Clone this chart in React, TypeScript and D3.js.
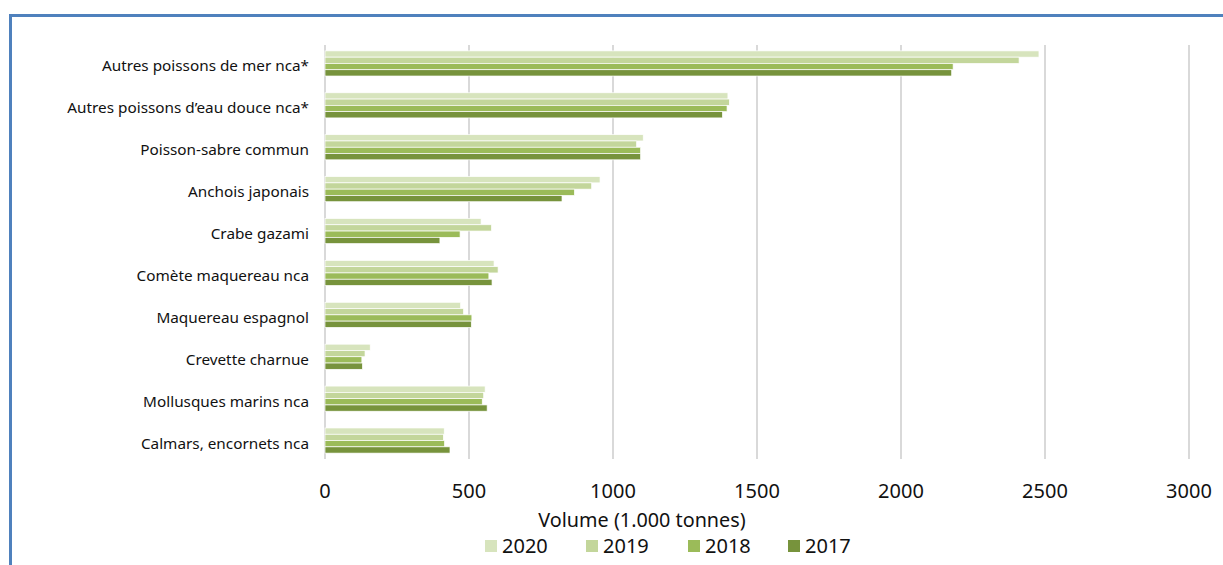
import React from "react";
import * as d3 from "d3";

const categories = [
  "Autres poissons de mer nca*",
  "Autres poissons d\u2019eau douce nca*",
  "Poisson-sabre commun",
  "Anchois japonais",
  "Crabe gazami",
  "Comète maquereau nca",
  "Maquereau espagnol",
  "Crevette charnue",
  "Mollusques marins nca",
  "Calmars, encornets nca",
];
const years = ["2020", "2019", "2018", "2017"];
const v2020 = [2479, 1399, 1105, 955, 542, 587, 471, 157, 556, 414];
const v2019 = [2410, 1404, 1082, 926, 578, 601, 481, 139, 551, 411];
const v2018 = [2181, 1396, 1096, 866, 469, 569, 510, 128, 546, 415];
const v2017 = [2176, 1380, 1096, 823, 399, 580, 508, 130, 563, 434];
const seriesValues = [v2020, v2019, v2018, v2017];
const colors = ["#d7e4bd", "#c3d69b", "#9bbb59", "#77933c"];
const xTicks = [0, 500, 1000, 1500, 2000, 2500, 3000];
const axisTitle = "Volume (1.000 tonnes)";

const W = 1223;
const H = 565;
const FONT = "'Noto Sans', sans-serif";

export default function App() {
  const x = d3.scaleLinear().domain([0, 3000]).range([325, 1189]);
  const y = d3.scaleBand().domain(categories).range([42.5, 461.5]).paddingInner(0.4).paddingOuter(0.2);
  const inner = d3.scaleBand().domain(years).range([0, y.bandwidth()]);

  const legendX = [485, 586, 688, 788];

  return (
    <svg width={W} height={H} style={{ position: "absolute", left: 0, top: 0, fontFamily: FONT }}>
      <rect x={0} y={0} width={W} height={H} fill="#fff" />
      <path d={`M10.5,${H + 5} V15.5 H${W + 5}`} fill="none" stroke="#4f81bd" strokeWidth={3} />
      {xTicks.map((t) => (
        <line key={t} x1={x(t)} x2={x(t)} y1={45} y2={459} stroke="#d9d9d9" strokeWidth={2} />
      ))}
      {categories.map((c, i) => (
        <g key={c}>
          {years.map((yr, j) => (
            <rect
              key={yr}
              x={x(0)}
              y={(y(c) as number) + (inner(yr) as number)}
              width={x(seriesValues[j][i]) - x(0)}
              height={inner.bandwidth()}
              fill={colors[j]}
              stroke="#fff"
              strokeWidth={0.7}
            />
          ))}
          <text
            x={309}
            y={(y(c) as number) + y.bandwidth() / 2 + 8}
            textAnchor="end"
            fontSize={15.3}
            fill="#111"
          >
            {c}
          </text>
        </g>
      ))}
      {xTicks.map((t) => (
        <text key={"l" + t} x={x(t)} y={498} textAnchor="middle" fontSize={20} fill="#111">
          {t}
        </text>
      ))}
      <text x={642} y={527} textAnchor="middle" fontSize={19.8} fill="#111">
        {axisTitle}
      </text>
      {years.map((yr, j) => (
        <g key={"lg" + yr}>
          <rect x={legendX[j]} y={540} width={12} height={12} fill={colors[j]} />
          <text x={legendX[j] + 17} y={553} fontSize={20} fill="#111">
            {yr}
          </text>
        </g>
      ))}
    </svg>
  );
}
